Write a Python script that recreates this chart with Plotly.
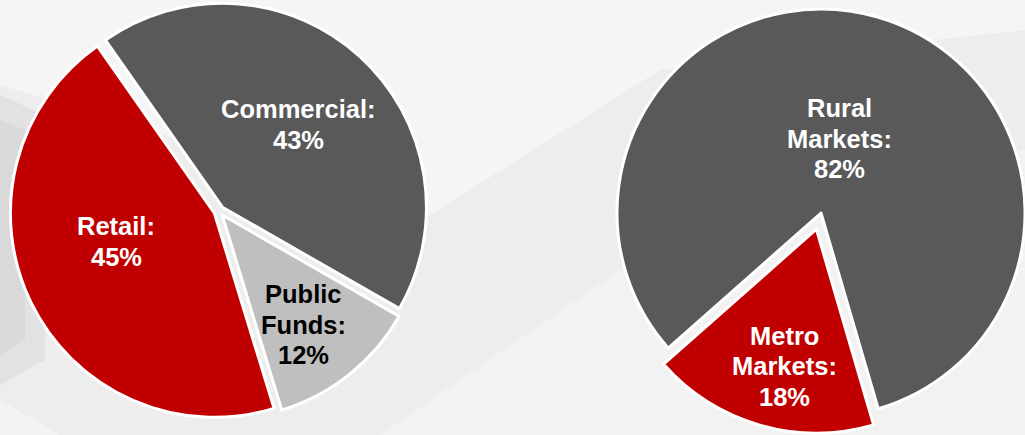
import math
import plotly.graph_objects as go

W, H = 1025, 435

# Deposit mix by segment (left pie)
seg_labels = ["Commercial", "Public Funds", "Retail"]
seg_values = [43, 12, 45]
seg_colors = ["#595959", "#BFBFBF", "#C00000"]
seg_text_colors = ["#FFFFFF", "#000000", "#FFFFFF"]

# Deposit mix by market (right pie)
mkt_labels = ["Rural Markets", "Metro Markets"]
mkt_values = [82, 18]
mkt_colors = ["#595959", "#C00000"]
mkt_text_colors = ["#FFFFFF", "#FFFFFF"]

# layout / style settings (pixels, degrees clockwise from 12 o'clock)
LEFT_CENTER, LEFT_R, LEFT_PULL, LEFT_ROT = (219, 211), 204, 0.025, -35
RIGHT_CENTER, RIGHT_R, RIGHT_ROT = (821, 213), 204, -131.5
RIGHT_PULL = [0.0, 0.082]
LEFT_LABEL_R, LEFT_LABEL_NUDGE = [0.55, 0.67, 0.50], [0, 2, 10]
RIGHT_LABEL_R, RIGHT_LABEL_NUDGE = [0.375, 0.69], [-2, -3]
FONT = "Liberation Sans, Arial, sans-serif"
FONT_SIZE = 25.5
LINE_GAP = 30.5
OUTLINE = "#FFFFFF"


def mid_angles(values, rotation):
    total = float(sum(values))
    out, acc = [], 0.0
    for v in values:
        out.append(rotation + 360.0 * (acc + v / 2.0) / total)
        acc += v
    return out


def offset(center, dist, angle_deg):
    a = math.radians(angle_deg)
    return (center[0] + dist * math.sin(a), center[1] - dist * math.cos(a))


def domain_for(center, half):
    cx, cy = center
    return dict(x=[(cx - half) / W, (cx + half) / W],
                y=[1 - (cy + half) / H, 1 - (cy - half) / H])


def label_lines(label, value):
    words = label.split(" ")
    words[-1] = words[-1] + ":"
    return words + [f"{value}%"]


fig = go.Figure()

# left pie: every slice slightly pulled out
fig.add_trace(go.Pie(
    labels=seg_labels, values=seg_values, sort=False, direction="clockwise",
    rotation=LEFT_ROT, pull=[LEFT_PULL] * len(seg_values),
    marker=dict(colors=seg_colors, line=dict(color=OUTLINE, width=3)),
    textinfo="none", hoverinfo="skip", showlegend=False,
    domain=domain_for(LEFT_CENTER, LEFT_R * (1 + LEFT_PULL)),
))

# right pie: one trace per slice so the exploded slice keeps full radius
right_mids = mid_angles(mkt_values, RIGHT_ROT)
right_centers = [offset(RIGHT_CENTER, p * RIGHT_R, m) for p, m in zip(RIGHT_PULL, right_mids)]
for k in range(len(mkt_values)):
    cols = [c if i == k else "rgba(0,0,0,0)" for i, c in enumerate(mkt_colors)]
    widths = [3 if i == k else 0 for i in range(len(mkt_values))]
    fig.add_trace(go.Pie(
        labels=mkt_labels, values=mkt_values, sort=False, direction="clockwise",
        rotation=RIGHT_ROT,
        marker=dict(colors=cols, line=dict(color=OUTLINE, width=widths)),
        textinfo="none", hoverinfo="skip", showlegend=False,
        domain=domain_for(right_centers[k], RIGHT_R),
    ))

# slice labels, one annotation per text line
left_mids = mid_angles(seg_values, LEFT_ROT)
left_centers = [offset(LEFT_CENTER, LEFT_PULL * LEFT_R, m) for m in left_mids]


def add_labels(labels, values, colors, centers, mids, radius, fracs, nudges):
    for lab, v, col, c, m, f, n in zip(labels, values, colors, centers, mids, fracs, nudges):
        x, y = offset(c, f * radius, m + n)
        lines = label_lines(lab, v)
        for i, line in enumerate(lines):
            fig.add_annotation(
                x=x / W, y=1 - y / H, xref="paper", yref="paper",
                text=line, showarrow=False, xanchor="center", yanchor="middle",
                yshift=-(i - (len(lines) - 1) / 2.0) * LINE_GAP,
                font=dict(family=FONT, size=FONT_SIZE, color=col, weight="bold"),
            )


add_labels(seg_labels, seg_values, seg_text_colors, left_centers, left_mids,
           LEFT_R, LEFT_LABEL_R, LEFT_LABEL_NUDGE)
add_labels(mkt_labels, mkt_values, mkt_text_colors, right_centers, right_mids,
           RIGHT_R, RIGHT_LABEL_R, RIGHT_LABEL_NUDGE)


# faceted light-grey backdrop
def facet(points, color):
    path = "M " + " L ".join(f"{x / W:.4f},{1 - y / H:.4f}" for x, y in points) + " Z"
    return dict(type="path", xref="paper", yref="paper", path=path,
                fillcolor=color, line=dict(width=0), layer="below")


shapes = [
    facet([(0, 0), (1025, 0), (1025, 30), (660, 70), (430, 215), (0, 85)], "#F5F5F5"),
    facet([(0, 95), (45, 115), (45, 360), (0, 385)], "rgba(0,0,0,0.045)"),
    facet([(0, 120), (25, 130), (25, 340), (0, 355)], "rgba(0,0,0,0.035)"),
    facet([(380, 435), (700, 215), (1025, 150), (1025, 435)], "#F2F2F2"),
    facet([(0, 400), (60, 435), (0, 435)], "#F3F3F3"),
]

fig.update_layout(
    width=W, height=H, margin=dict(l=0, r=0, t=0, b=0),
    paper_bgcolor="#EDEDED", plot_bgcolor="#EDEDED",
    shapes=shapes, showlegend=False,
)

fig.write_html("out.html")
